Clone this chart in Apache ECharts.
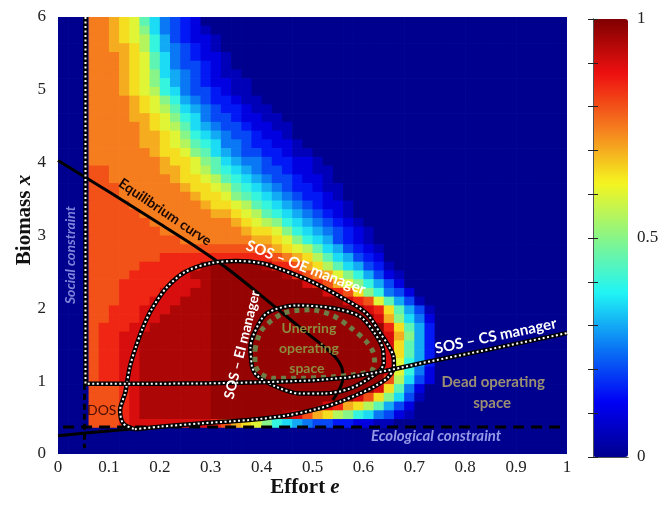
<!DOCTYPE html>
<html><head><meta charset="utf-8">
<script src="https://cdn.jsdelivr.net/npm/echarts@6/dist/echarts.min.js"></script>
<style>html,body{margin:0;padding:0;background:#fff}#c{width:664px;height:510px}</style>
</head><body><div id="c"></div>
<script>
// ---------- data ----------
const X_TICKS = [0,0.1,0.2,0.3,0.4,0.5,0.6,0.7,0.8,0.9,1];
const Y_TICKS = [0,1,2,3,4,5,6];
const COLORBAR_LABELS = [0,0.5,1];
const CELL_W = 0.02, CELL_H = 0.12, N_COLS = 50;
// cell codes -> probability value
const LEVEL_CODES = '0123456789abcdefghijk';
const LEVEL_VALUES = [0,0.05,0.1,0.15,0.2,0.25,0.3,0.35,0.4,0.45,0.5,0.55,0.6,0.65,0.7,0.75,0.8,0.85,0.9,0.95,0.975];
// heat map rows, top row (biomass 5.94) first; columns effort 0.01 .. 0.99 (missing tail = 0)
const HEAT_ROWS = [
"000ffedc975432",
"000ffedca754321",
"000ffedcb8643221",
"000ffeedb8654321",
"000fffedc97543221",
"000fffedc97544321",
"000fffedca76543211",
"000fffedca865432211",
"000fffedcb875443211",
"000ffffedca865433211",
"000ffffedcb9765433211",
"000ffffeedca8754432211",
"000fffffedcb97654432211",
"000fffffeedca8765443221",
"000fffffeedcb98755433221",
"000ffffffeddca97654433211",
"000fffffffeddca97655433221",
"000ggfffffeedcb987654432211",
"000ggffffffeddcb98765443221",
"000gggffffffeddcb98765433211",
"000gggfffffffeddca9876543321",
"000ggggfffffffeddcb9876543221",
"000gggggfffffffeedcb987654321",
"000ggggggffffffffedcba87654321",
"000gggggggffffffffeddca87654321",
"000gggggggggfffffffeedca8764321",
"000gggggggggggggggggfedcb9764321",
"000ggggggghhhhhhhhhhhgfedb976432",
"000ggggghhhhhhjkkkkkjhhgedb976431",
"000gggghhhhhijjkkkkkkkjhgfeca86421",
"000ggghhhhhiiijkkkkkkkkkihgeca8642",
"000ggghhhhiiijjkkkkkkkkkkkihgda8542",
"000ggghhhiiijjjkkkkkkkkkkkkkihgc9641",
"000gghhhiiijjjjkkkkkkkkkkkkkkkihd9641",
"000gghhhiijjjjjkkkkkkkkkkkkkkkkiea752",
"000ghhhiijjjjjjkkkkkkkkkkkkkkkkkhd963",
"000ghhiijjjjjjjkkkkkkkkkkkkkkkkkiea63",
"000ghhiijjjjjjjkkkkkkkkkkkkkkkkkid963",
"000ghhiijjjjjjjkkkkkkkkkkkkkkkkkid963",
"000ghhiijjjjjjjkkkkkkkkkkkkkkkkkic863",
"000ghhiijjjjjjjkkkkkkkkkkkkkkkkkic852",
"000ghhiijjjjjjjkkkkkkkkkkkkkkkkkgb742",
"000ggghijjjjjjjkkkkkkkkkkkkkkkkid952",
"000ggghijjjjjjjkkkkkkkkkkkkkkigda741",
"000ggghijjjjjjjkkkkkkkkkkkihedb9642",
"000ggghijjjjjjjkkkkkkkjigedba875421",
"000ggghiiiiiiiihgedca876544332211",
"0",
"0",
"0"
];
const EQUILIBRIUM = [[0,4.03],[0.1,3.6],[0.2,3.16],[0.27,2.85],[0.328,2.57],[0.4,2.17],[0.475,1.74],[0.52,1.49],[0.545,1.33],[0.557,1.2],[0.56,1.05],[0.555,0.92],[0.54,0.74]];
const SOS_CS = [[0.054,6],[0.054,0.965],[0.2,0.965],[0.3,0.97],[0.4,0.985],[0.5,1.01],[0.57,1.05],[0.65,1.15],[0.73,1.27],[0.85,1.44],[1.0,1.66]];
const SOCIAL_LOWER = [[0.052,0.965],[0.052,0.08]];
const LOWER_BOUND = [[0,0.25],[0.07,0.3],[0.15,0.345]];
const ECOLOGICAL = [[0.01,0.37],[1,0.37]];
const SOS_OE = [[0.151,0.34],[0.2,0.375],[0.28,0.42],[0.38,0.47],[0.45,0.53],[0.51,0.62],[0.555,0.72],[0.593,0.83],[0.625,0.94],[0.648,1.05],[0.66,1.2],[0.659,1.34],[0.648,1.5],[0.633,1.66],[0.606,1.93],[0.567,2.11],[0.5,2.36],[0.44,2.53],[0.4,2.62],[0.35,2.65],[0.3,2.62],[0.25,2.5],[0.214,2.29],[0.185,2.0],[0.167,1.74],[0.152,1.45],[0.141,1.19],[0.132,0.84],[0.122,0.6],[0.128,0.42],[0.151,0.34]];
const SOS_EI = [[0.381,1.2],[0.378,1.45],[0.385,1.65],[0.41,1.93],[0.469,2.04],[0.541,2.0],[0.593,1.89],[0.62,1.68],[0.638,1.45],[0.64,1.25],[0.626,1.11],[0.574,0.9],[0.52,0.83],[0.475,0.83],[0.43,0.92],[0.39,1.08],[0.381,1.2]];
const UNERRING = [[0.387,1.43],[0.4,1.7],[0.442,1.93],[0.495,1.98],[0.54,1.9],[0.574,1.74],[0.605,1.55],[0.619,1.4],[0.622,1.25],[0.615,1.14],[0.58,1.09],[0.54,1.06],[0.48,1.04],[0.422,1.04],[0.397,1.11],[0.387,1.25],[0.387,1.43]];

// ---------- styles / layout ----------
const SERIF = '"Liberation Serif","Times New Roman",serif';
const SANS = 'Lato,"Open Sans",sans-serif';
const JET = ['#00008F','#0000F5','#0A78F5','#20F5F5','#88F588','#F5F520','#F57D1E','#EE1010','#800000'];
const ANNOTATIONS = [
  {text:'Social constraint', at:[0.0255,2.73], rot:90, font:'italic bold 14px '+SANS, fill:'#7f84dc'},
  {text:'Ecological constraint', at:[0.743,0.25], rot:0, font:'italic bold 15px '+SANS, fill:'#9498e6'},
  {text:'Equilibrium curve', at:[0.21,3.32], rot:-34, font:'bold 14px '+SANS, fill:'#1a0800'},
  {text:'SOS \u2013 OE manager', at:[0.487,2.56], rot:-21, font:'bold 15px '+SANS, fill:'#ffffff'},
  {text:'SOS \u2013 EI manager', at:[0.362,1.50], rot:76, font:'bold 14px '+SANS, fill:'#ffffff'},
  {text:'SOS \u2013 CS manager', at:[0.86,1.62], rot:12, font:'bold 15px '+SANS, fill:'#ffffff'},
  {text:'Unerring', at:[0.493,1.73], rot:0, font:'bold 14px '+SANS, fill:'#8d8b3e'},
  {text:'operating', at:[0.493,1.455], rot:0, font:'bold 14px '+SANS, fill:'#8d8b3e'},
  {text:'space', at:[0.489,1.18], rot:0, font:'bold 14px '+SANS, fill:'#8d8b3e'},
  {text:'Dead operating', at:[0.855,0.99], rot:0, font:'bold 15px '+SANS, fill:'#9a8f72'},
  {text:'space', at:[0.853,0.70], rot:0, font:'bold 15px '+SANS, fill:'#9a8f72'},
  {text:'DOS', at:[0.057,0.604], rot:0, font:'14px '+SANS, fill:'#4a0e06', align:'left'}
];

// ---------- build ----------
const X_CENTERS = Array.from({length:N_COLS}, (_, c) => +(CELL_W*c + CELL_W/2).toFixed(4));
const Y_CENTERS = Array.from({length:HEAT_ROWS.length}, (_, r) => +(CELL_H*r + CELL_H/2).toFixed(4));
const heatData = [];
HEAT_ROWS.forEach((row, i) => {
  const y = Y_CENTERS[HEAT_ROWS.length - 1 - i];
  for (let c = 0; c < N_COLS; c++) {
    const ch = row[c] || '0';
    heatData.push([X_CENTERS[c], y, LEVEL_VALUES[LEVEL_CODES.indexOf(ch)]]);
  }
});

function plain(data, style, z, smooth) {
  return {type:'line', xAxisIndex:0, yAxisIndex:0, data, smooth: smooth || false, symbol:'none',
          silent:true, z, lineStyle:style, animation:false};
}
function outlined(data, z, smooth) {
  return [plain(data, {color:'#000', width:4.5}, z, smooth),
          plain(data, {color:'#fff', width:2, type:[2,2.5]}, z+1, smooth)];
}

const chart = echarts.init(document.getElementById('c'), null, {renderer:'canvas', width:664, height:510});
const series = [
  {type:'custom', coordinateSystem:'cartesian2d', xAxisIndex:0, yAxisIndex:0, data:heatData,
   encode:{x:0, y:1}, silent:true, clip:true, z:1, animation:false,
   renderItem:(params, api) => {
     const x = api.value(0), y = api.value(1);
     const p0 = api.coord([x - CELL_W/2, y + CELL_H/2]);
     const p1 = api.coord([x + CELL_W/2, y - CELL_H/2]);
     return {type:'rect', shape:{x:p0[0], y:p0[1], width:p1[0]-p0[0]+0.7, height:p1[1]-p0[1]+0.7},
             style:{fill: api.visual('color')}};
   }},
  plain(ECOLOGICAL, {color:'#000', width:3, type:[11,7]}, 3),
  plain(LOWER_BOUND, {color:'#000', width:3}, 3),
  plain(SOCIAL_LOWER, {color:'#000', width:3, type:[6,4]}, 3),
  plain(EQUILIBRIUM, {color:'#000', width:3}, 4, 0.3),
  ...outlined(SOS_OE, 5, 0.3),
  ...outlined(SOS_EI, 7, 0.3),
  plain(UNERRING, {color:'#6e7d48', width:5, type:[5,5]}, 9, 0.3),
  ...outlined(SOS_CS, 10, false),
  {type:'line', xAxisIndex:1, yAxisIndex:1, data:[], silent:true}
];

const option = {
  animation:false,
  backgroundColor:'#ffffff',
  grid:[
    {left:58, top:17, width:509, height:437},
    {left:593, top:19, width:35, height:438}
  ],
  xAxis:[
    {gridIndex:0, type:'value', min:0, max:1, interval:0.1,
     axisLine:{show:false}, axisTick:{show:false}, splitLine:{show:false},
     axisLabel:{fontFamily:SERIF, fontSize:17, color:'#222', margin:5,
       formatter:v => (X_TICKS.find(t => Math.abs(t - v) < 1e-6) ?? '') + ''}},
    {gridIndex:1, type:'value', min:0, max:1, position:'bottom', z:10,
     axisLine:{show:true, lineStyle:{color:'#555', width:1}}, axisTick:{show:false},
     axisLabel:{show:false}, splitLine:{show:false}},
    {gridIndex:1, type:'value', min:0, max:1, position:'top', z:10,
     axisLine:{show:true, lineStyle:{color:'#555', width:1}}, axisTick:{show:false},
     axisLabel:{show:false}, splitLine:{show:false}}
  ],
  yAxis:[
    {gridIndex:0, type:'value', min:0, max:6, interval:1,
     axisLine:{show:false}, axisTick:{show:false}, splitLine:{show:false},
     axisLabel:{fontFamily:SERIF, fontSize:17, color:'#222', margin:12,
       formatter:v => (Y_TICKS.find(t => Math.abs(t - v) < 1e-6) ?? '') + ''}},
    {gridIndex:1, type:'value', min:0, max:1, interval:0.1, position:'right', z:10,
     axisLine:{show:true, lineStyle:{color:'#555', width:1}},
     axisTick:{show:true, inside:true, length:5, lineStyle:{color:'#222', width:1}},
     axisLabel:{fontFamily:SERIF, fontSize:17, color:'#222', margin:9, showMinLabel:true, showMaxLabel:true,
       formatter:v => { const t = COLORBAR_LABELS.find(l => Math.abs(l - v) < 1e-6); return t === undefined ? '' : String(t); }},
     splitLine:{show:false}},
    {gridIndex:1, type:'value', min:0, max:1, interval:0.1, position:'left', z:10,
     axisLine:{show:true, lineStyle:{color:'#555', width:1}},
     axisTick:{show:true, inside:true, length:5, lineStyle:{color:'#222', width:1}},
     axisLabel:{show:false}, splitLine:{show:false}}
  ],
  visualMap:{
    type:'continuous', min:0, max:1, seriesIndex:0, dimension:2, calculable:false, hoverLink:false,
    left:593, top:19, itemWidth:35, itemHeight:438, padding:0, orient:'vertical',
    inRange:{color:JET}
  },
  series
};
chart.setOption(option);

const graphics = ANNOTATIONS.map(a => {
  const p = chart.convertToPixel({xAxisIndex:0, yAxisIndex:0}, a.at);
  return {type:'text', x:p[0], y:p[1], rotation:a.rot*Math.PI/180, z:100, silent:true,
          style:{text:a.text, font:a.font, fill:a.fill, align:a.align || 'center', verticalAlign:'middle'}};
});
const titleRich = {
  a:{fontFamily:SERIF, fontWeight:'bold', fontSize:21, fill:'#111', color:'#111'},
  b:{fontFamily:SERIF, fontWeight:'bold', fontStyle:'italic', fontSize:21, fill:'#111', color:'#111'}
};
graphics.push({type:'text', x:305, y:488, z:100, silent:true,
  style:{text:'{a|Effort }{b|e}', rich:titleRich, align:'center', verticalAlign:'middle'}});
graphics.push({type:'text', x:25, y:220, rotation:Math.PI/2, z:100, silent:true,
  style:{text:'{a|Biomass }{b|x}', rich:titleRich, align:'center', verticalAlign:'middle'}});
chart.setOption({graphic:graphics});
</script>
</body></html>
